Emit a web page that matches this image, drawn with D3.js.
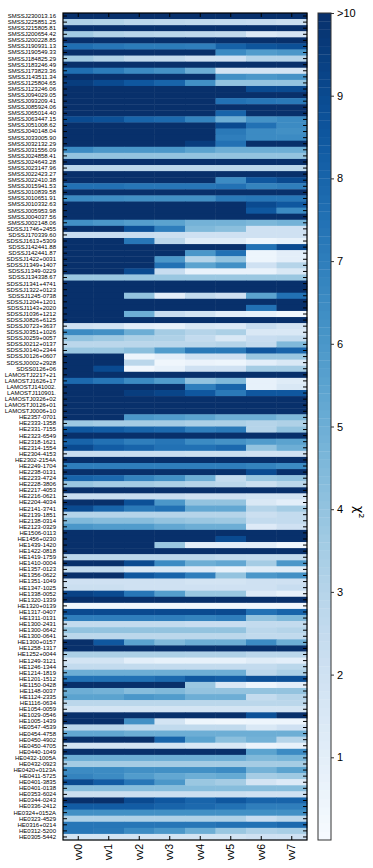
<!DOCTYPE html>
<html>
<head>
<meta charset="utf-8">
<script src="https://cdn.jsdelivr.net/npm/d3@7"></script>
<style>
  body { margin: 0; background: #fff; }
  svg { display: block; font-family: "DejaVu Sans", sans-serif; }
</style>
</head>
<body>
<svg id="chart" width="373" height="868"></svg>
<script>
// model columns
const columns = ["vv0", "vv1", "vv2", "vv3", "vv4", "vv5", "vv6", "vv7"];

// stars, top to bottom
const stars = [
  "SMSSJ230013.16", "SMSSJ225851.25", "SMSSJ215805.81", "SMSSJ200654.42", "SMSSJ200228.85",
  "SMSSJ190931.13", "SMSSJ190549.33", "SMSSJ184825.29", "SMSSJ183246.49", "SMSSJ173823.36",
  "SMSSJ143511.34", "SMSSJ125804.65", "SMSSJ123246.06", "SMSSJ094029.05", "SMSSJ093209.41",
  "SMSSJ085924.06", "SMSSJ065014.40", "SMSSJ063447.15", "SMSSJ051008.62", "SMSSJ040148.04",
  "SMSSJ033005.90", "SMSSJ032132.29", "SMSSJ031556.09", "SMSSJ024858.41", "SMSSJ024643.28",
  "SMSSJ023147.96", "SMSSJ022423.27", "SMSSJ022410.38", "SMSSJ015941.53", "SMSSJ010839.58",
  "SMSSJ010651.91", "SMSSJ010332.63", "SMSSJ005953.98", "SMSSJ004037.56", "SMSSJ002148.06",
  "SDSSJ1746+2455", "SDSSJ170339.60", "SDSSJ1613+5309", "SDSSJ142441.88", "SDSSJ142441.87",
  "SDSSJ1422+0031", "SDSSJ1349+1407", "SDSSJ1349-0229", "SDSSJ134338.67", "SDSSJ1341+4741",
  "SDSSJ1322+0123", "SDSSJ1245-0738", "SDSSJ1204+1201", "SDSSJ1143+2020", "SDSSJ1036+1212",
  "SDSSJ0826+6125", "SDSSJ0723+3637", "SDSSJ0351+1026", "SDSSJ0259+0057", "SDSSJ0212+0137",
  "SDSSJ0140+2344", "SDSSJ0126+0607", "SDSSJ0002+2928", "SDSS0126+06", "LAMOSTJ2217+21",
  "LAMOSTJ1626+17", "LAMOSTJ141002.", "LAMOSTJ110901.", "LAMOSTJ0326+02", "LAMOSTJ0126+01",
  "LAMOSTJ0006+10", "HE2357-0701", "HE2333-1358", "HE2331-7155", "HE2323-6549",
  "HE2318-1621", "HE2314-1554", "HE2304-4153", "HE2302-2154A", "HE2249-1704",
  "HE2238-0131", "HE2233-4724", "HE2228-3806", "HE2217-4053", "HE2216-0621",
  "HE2204-4034", "HE2141-3741", "HE2139-1851", "HE2138-0314", "HE2123-0329",
  "HE1506-0113", "HE1456+0230", "HE1439-1420", "HE1422-0818", "HE1419-1759",
  "HE1410-0004", "HE1357-0123", "HE1356-0622", "HE1351-1049", "HE1347-1025",
  "HE1338-0052", "HE1320-1339", "HE1320+0139", "HE1317-0407", "HE1311-0131",
  "HE1300-2431", "HE1300-0642", "HE1300-0641", "HE1300+0157", "HE1258-1317",
  "HE1252+0044", "HE1249-3121", "HE1246-1344", "HE1214-1819", "HE1201-1512",
  "HE1150-0428", "HE1148-0037", "HE1124-2335", "HE1116-0634", "HE1054-0059",
  "HE1029-0546", "HE1005-1439", "HE0547-4539", "HE0454-4758", "HE0450-4902",
  "HE0450-4705", "HE0440-1049", "HE0432-1005A", "HE0432-0923", "HE0420+0123A",
  "HE0411-5725", "HE0401-3835", "HE0401-0138", "HE0353-6024", "HE0344-0243",
  "HE0336-2412", "HE0324+0152A", "HE0323-4529", "HE0316+0214", "HE0312-5200",
  "HE0305-5442"
];

// chi^2 per star (row) and model (column); values above 10 saturate
const chi2 = [
  [12, 12, 12, 12, 12, 12, 12, 12],
  [3.2, 3.1, 2.8, 2.7, 2.6, 2.5, 2.4, 2.2],
  [12, 12, 12, 12, 12, 12, 12, 12],
  [3.6, 3.1, 2.9, 2.8, 2.7, 2.6, 1.4, 1.7],
  [12, 12, 12, 12, 12, 12, 12, 12],
  [7.6, 7.3, 7.1, 7.1, 7.0, 8.1, 8.6, 8.8],
  [12, 12, 12, 12, 12, 6.5, 5.8, 6.0],
  [3.6, 3.1, 2.6, 2.5, 2.0, 2.0, 3.0, 3.0],
  [12, 12, 12, 12, 12, 12, 12, 12],
  [7.6, 7.1, 6.5, 6.2, 5.0, 1.8, 1.8, 1.8],
  [12, 12, 12, 12, 12, 6.3, 6.0, 6.2],
  [9.5, 9.0, 8.5, 8.0, 6.3, 4.0, 4.0, 4.0],
  [12, 12, 12, 12, 12, 11, 9.0, 9.0],
  [12, 12, 12, 12, 12, 11, 12, 12],
  [12, 12, 12, 12, 12, 7.5, 7.3, 7.2],
  [12, 12, 12, 12, 12, 12, 12, 12],
  [12, 12, 12, 12, 12, 8.0, 11, 11],
  [9.0, 8.8, 8.0, 7.8, 6.8, 5.0, 6.2, 6.5],
  [12, 12, 12, 12, 12, 9.0, 7.5, 6.5],
  [12, 12, 12, 12, 12, 7.2, 6.5, 6.3],
  [12, 12, 12, 12, 12, 7.0, 6.5, 6.5],
  [12, 12, 12, 12, 9.5, 7.5, 10.5, 10.5],
  [6.5, 6.0, 6.0, 6.0, 5.5, 5.0, 5.0, 5.0],
  [4.0, 4.0, 4.0, 4.0, 4.0, 4.0, 4.0, 4.0],
  [12, 12, 12, 12, 12, 12, 12, 12],
  [2.8, 2.8, 2.8, 2.8, 2.8, 2.8, 2.8, 2.8],
  [12, 12, 12, 12, 12, 12, 12, 12],
  [12, 12, 12, 12, 12, 6.5, 8.5, 9.0],
  [7.5, 7.5, 7.3, 7.3, 7.3, 7.5, 6.8, 7.0],
  [12, 12, 12, 12, 12, 12, 12, 12],
  [6.5, 6.4, 6.3, 6.3, 6.3, 7.2, 7.3, 7.3],
  [12, 12, 12, 12, 12, 12, 9.0, 8.5],
  [12, 12, 12, 12, 12, 12, 8.5, 6.5],
  [12, 12, 11, 11, 11, 11, 11, 11],
  [6.3, 6.0, 5.7, 5.5, 4.8, 4.8, 4.6, 4.8],
  [11, 11, 8.8, 7.0, 4.5, 4.2, 2.0, 2.0],
  [2.3, 2.3, 2.3, 2.2, 2.0, 2.0, 2.0, 2.0],
  [12, 12, 7.3, 2.8, 1.2, 1.2, 0.5, 0.8],
  [12, 12, 12, 12, 12, 12, 7.5, 9.0],
  [12, 12, 12, 12, 6.0, 7.5, 0.5, 1.0],
  [12, 12, 12, 6.0, 3.0, 4.0, 0.5, 1.0],
  [12, 12, 12, 7.5, 5.5, 6.3, 2.0, 3.0],
  [12, 12, 9.0, 2.3, 0.7, 0.7, 0.7, 1.5],
  [3.8, 3.8, 3.8, 3.8, 3.8, 3.8, 3.8, 3.8],
  [12, 12, 12, 12, 12, 12, 12, 12],
  [12, 12, 12, 12, 12, 12, 12, 12],
  [12, 12, 4.0, 1.0, 2.5, 2.0, 5.5, 7.5],
  [12, 12, 12, 12, 12, 12, 12, 12],
  [12, 12, 12, 12, 12, 12, 7.5, 12],
  [12, 12, 5.0, 2.3, 1.8, 1.0, 0.8, 0.3],
  [12, 12, 12, 12, 12, 12, 12, 12],
  [2.0, 1.8, 1.0, 0.8, 1.5, 1.3, 2.3, 1.8],
  [6.5, 6.3, 5.0, 3.5, 3.0, 3.3, 1.5, 1.5],
  [4.0, 3.7, 3.3, 3.2, 2.5, 1.5, 2.3, 2.5],
  [2.8, 2.8, 2.8, 2.8, 2.8, 3.0, 2.5, 4.5],
  [3.8, 3.8, 4.2, 5.8, 7.2, 7.2, 8.5, 8.0],
  [12, 12, 0.5, 1.0, 2.0, 2.0, 3.8, 3.8],
  [12, 12, 2.8, 0.4, 0.6, 0.5, 1.0, 1.5],
  [12, 9.0, 0.3, 0.8, 2.0, 2.0, 3.5, 3.5],
  [12, 12, 12, 12, 12, 12, 12, 12],
  [7.8, 7.3, 6.5, 5.8, 4.0, 4.5, 0.8, 1.2],
  [12, 12, 12, 12, 7.0, 8.0, 0.8, 1.5],
  [11, 10.5, 9.5, 9.2, 8.5, 7.2, 8.5, 8.5],
  [12, 12, 12, 12, 12, 12, 12, 12],
  [12, 12, 12, 12, 12, 12, 12, 12],
  [12, 12, 12, 12, 12, 12, 12, 12],
  [12, 12, 6.0, 5.8, 5.5, 5.0, 5.0, 4.5],
  [3.7, 3.5, 3.5, 3.5, 3.3, 3.3, 3.0, 3.2],
  [8.5, 8.3, 8.0, 7.8, 7.0, 7.2, 3.0, 4.0],
  [11, 11, 10.5, 10.5, 10.5, 10.5, 10.2, 10.5],
  [8.0, 7.5, 7.0, 7.3, 6.5, 6.2, 5.8, 5.5],
  [9.0, 8.3, 8.0, 7.5, 7.5, 7.8, 4.0, 5.0],
  [2.3, 2.3, 2.3, 2.3, 2.2, 2.2, 2.0, 2.0],
  [12, 12, 12, 12, 12, 12, 12, 12],
  [7.0, 7.0, 7.0, 7.0, 7.0, 7.0, 6.8, 6.5],
  [12, 12, 12, 12, 12, 12, 9.0, 10.5],
  [8.0, 7.8, 6.8, 6.3, 5.0, 2.5, 3.8, 4.0],
  [3.8, 3.5, 3.5, 3.3, 3.0, 2.8, 2.2, 2.8],
  [12, 12, 12, 12, 12, 12, 10.5, 11],
  [2.3, 2.3, 2.3, 2.3, 2.0, 2.0, 1.8, 1.8],
  [11, 11, 8.8, 6.0, 4.0, 4.0, 1.5, 1.0],
  [9.0, 8.0, 7.2, 7.5, 5.3, 5.3, 3.0, 3.5],
  [3.0, 3.0, 3.0, 3.0, 3.0, 3.0, 2.2, 2.5],
  [4.5, 4.3, 4.3, 4.0, 3.8, 3.7, 2.5, 2.5],
  [6.0, 5.8, 5.8, 5.3, 5.0, 5.0, 1.3, 2.0],
  [12, 12, 12, 12, 12, 12, 12, 12],
  [12, 12, 12, 12, 12, 9.0, 10.5, 11],
  [12, 12, 12, 3.8, 1.0, 1.0, 1.0, 0.3],
  [12, 12, 12, 12, 12, 12, 12, 12],
  [2.8, 2.8, 2.8, 2.8, 2.8, 2.6, 2.5, 2.5],
  [11, 11, 9.0, 6.5, 5.0, 5.3, 3.5, 6.0],
  [2.5, 2.5, 1.5, 1.5, 1.3, 0.8, 1.2, 1.2],
  [11, 10, 8.5, 8.0, 7.0, 4.0, 6.0, 6.3],
  [2.0, 2.0, 2.0, 2.0, 1.8, 1.8, 2.0, 2.0],
  [2.2, 2.2, 2.0, 2.0, 2.0, 2.0, 2.0, 2.3],
  [9.3, 9.0, 7.3, 5.7, 3.8, 3.8, 1.3, 0.8],
  [12, 12, 12, 12, 12, 12, 12, 12],
  [0.3, 0.3, 0.3, 0.3, 0.3, 0.3, 0.3, 0.3],
  [9.0, 9.0, 9.0, 9.0, 9.0, 9.0, 7.5, 8.0],
  [7.0, 7.0, 7.0, 7.0, 6.8, 7.0, 4.0, 4.5],
  [2.5, 2.5, 2.5, 2.5, 2.3, 2.3, 2.5, 2.5],
  [4.0, 4.0, 4.0, 4.0, 4.0, 4.0, 2.8, 3.0],
  [2.8, 2.8, 2.8, 2.8, 2.8, 2.8, 2.6, 2.6],
  [11, 8.5, 5.5, 4.5, 5.0, 5.0, 6.5, 5.0],
  [12, 12, 12, 12, 12, 12, 12, 12],
  [3.3, 3.3, 3.3, 3.3, 3.2, 3.2, 2.8, 2.8],
  [1.8, 1.8, 1.0, 0.8, 0.8, 0.8, 1.2, 1.0],
  [2.5, 2.5, 2.5, 2.5, 2.5, 2.5, 2.5, 2.8],
  [5.0, 5.0, 5.0, 5.0, 5.0, 5.0, 2.8, 3.3],
  [7.5, 7.5, 7.5, 7.8, 8.5, 8.3, 8.8, 8.8],
  [11.5, 11.5, 11.5, 11.5, 3.8, 1.5, 0.5, 1.0],
  [5.0, 4.8, 4.3, 4.5, 4.0, 4.0, 4.0, 4.0],
  [5.5, 5.5, 6.0, 5.8, 5.0, 5.0, 2.5, 3.0],
  [2.8, 2.8, 2.8, 2.8, 2.8, 2.8, 2.8, 2.8],
  [1.8, 1.8, 1.8, 1.8, 1.8, 1.8, 1.8, 1.8],
  [12, 12, 12, 12, 12, 12, 8.8, 12],
  [12, 12, 6.3, 1.8, 0.5, 0.4, 0.5, 0.5],
  [2.8, 2.8, 2.6, 2.6, 2.6, 2.6, 1.5, 2.0],
  [5.3, 5.3, 5.0, 5.0, 5.0, 5.0, 5.0, 5.0],
  [11, 11, 11, 8.0, 5.5, 4.2, 4.8, 3.0],
  [1.8, 1.8, 1.8, 1.8, 1.5, 1.5, 0.6, 0.8],
  [11.5, 11.5, 11.5, 11.5, 11.5, 11.5, 5.5, 6.5],
  [5.0, 5.0, 5.0, 5.0, 5.0, 5.0, 4.5, 4.7],
  [3.5, 3.5, 3.5, 3.5, 3.5, 3.5, 3.5, 3.5],
  [6.5, 6.5, 6.3, 6.3, 6.3, 6.5, 4.8, 5.5],
  [6.8, 6.5, 5.8, 5.3, 5.0, 5.2, 3.5, 3.7],
  [9.0, 8.3, 7.3, 6.0, 3.8, 3.5, 1.8, 1.3],
  [4.3, 4.3, 4.3, 4.3, 4.3, 4.3, 4.3, 4.3],
  [2.2, 2.2, 2.2, 2.2, 2.2, 2.2, 2.0, 2.0],
  [11, 11, 9.0, 8.5, 8.0, 8.5, 8.0, 8.0],
  [8.3, 8.3, 8.3, 8.0, 7.8, 7.5, 7.0, 7.0],
  [6.3, 6.3, 6.3, 6.3, 6.3, 6.3, 6.3, 6.3],
  [3.2, 3.2, 3.2, 3.2, 3.2, 3.2, 2.3, 2.8],
  [7.3, 7.3, 7.3, 7.3, 7.3, 7.5, 7.5, 7.8],
  [7.3, 7.2, 6.5, 6.0, 5.0, 3.8, 3.2, 3.4],
  [1.8, 1.8, 1.8, 1.8, 1.8, 1.8, 2.0, 2.0]
];

// colorbar ticks
const cbarTicks = [1, 2, 3, 4, 5, 6, 7, 8, 9, 10];
const cbarTickLabels = ["1", "2", "3", "4", "5", "6", "7", "8", "9", ">10"];

const svg = d3.select("#chart");
const plot = { left: 63, right: 307, top: 13, bottom: 840 };
const cbar = { left: 318, right: 331 };

const x = d3.scaleBand().domain(columns).range([plot.left, plot.right]);
const y = d3.scaleBand().domain(stars).range([plot.top, plot.bottom]);
const color = d3.scaleSequential(d3.interpolateBlues).domain([0, 10]).clamp(true);

const cells = [];
stars.forEach((s, i) => columns.forEach((c, j) => cells.push({ star: s, col: c, v: chi2[i][j] })));

svg.append("g")
  .selectAll("rect")
  .data(cells)
  .enter()
  .append("rect")
  .attr("x", d => x(d.col))
  .attr("y", d => y(d.star))
  .attr("width", x.bandwidth() + 0.4)
  .attr("height", y.bandwidth() + 0.4)
  .attr("fill", d => color(d.v));

// y axis (left labels, ticks pointing inward)
const yAxis = svg.append("g")
  .attr("transform", `translate(${plot.left},0)`)
  .call(d3.axisLeft(y).tickSizeInner(-4).tickSizeOuter(0).tickPadding(7));
yAxis.select(".domain").remove();
yAxis.selectAll("text").style("font-size", "6px").attr("fill", "#000");

svg.append("g")
  .attr("transform", `translate(${plot.right},0)`)
  .call(d3.axisRight(y).tickSizeInner(-4).tickSizeOuter(0).tickFormat(""))
  .select(".domain").remove();

// x axis
const xAxis = svg.append("g")
  .attr("transform", `translate(0,${plot.bottom})`)
  .call(d3.axisBottom(x).tickSizeInner(-4).tickSizeOuter(0));
xAxis.select(".domain").remove();
xAxis.selectAll("text")
  .style("font-size", "10.5px")
  .attr("fill", "#000")
  .attr("transform", "rotate(-90)")
  .attr("text-anchor", "end")
  .attr("x", -4)
  .attr("y", 0)
  .attr("dy", "0.35em");

svg.append("g")
  .attr("transform", `translate(0,${plot.top})`)
  .call(d3.axisTop(x).tickSizeInner(-4).tickSizeOuter(0).tickFormat(""))
  .select(".domain").remove();

svg.append("rect")
  .attr("x", plot.left).attr("y", plot.top)
  .attr("width", plot.right - plot.left).attr("height", plot.bottom - plot.top)
  .attr("fill", "none").attr("stroke", "#000").attr("stroke-width", 1.2);

// colorbar
const cy = d3.scaleLinear().domain([0, 10]).range([plot.bottom, plot.top]);
const steps = d3.range(0, 10, 0.1);
svg.append("g")
  .selectAll("rect")
  .data(steps)
  .enter()
  .append("rect")
  .attr("x", cbar.left)
  .attr("y", d => cy(d + 0.1))
  .attr("width", cbar.right - cbar.left)
  .attr("height", d => cy(d) - cy(d + 0.1) + 0.3)
  .attr("fill", d => color(d + 0.05));

svg.append("rect")
  .attr("x", cbar.left).attr("y", plot.top)
  .attr("width", cbar.right - cbar.left).attr("height", plot.bottom - plot.top)
  .attr("fill", "none").attr("stroke", "#333").attr("stroke-width", 1);

const cAxis = svg.append("g")
  .attr("transform", `translate(${cbar.right},0)`)
  .call(d3.axisRight(cy).tickValues(cbarTicks).tickFormat((d, i) => cbarTickLabels[i]).tickSize(3).tickPadding(3));
cAxis.select(".domain").remove();
cAxis.selectAll("line").attr("stroke", "#333");
cAxis.selectAll("text").style("font-size", "11px").attr("fill", "#000");

svg.append("text")
  .attr("transform", "translate(355,512) rotate(90)")
  .attr("text-anchor", "middle")
  .style("font-size", "13px")
  .text("χ²");
</script>
</body>
</html>
